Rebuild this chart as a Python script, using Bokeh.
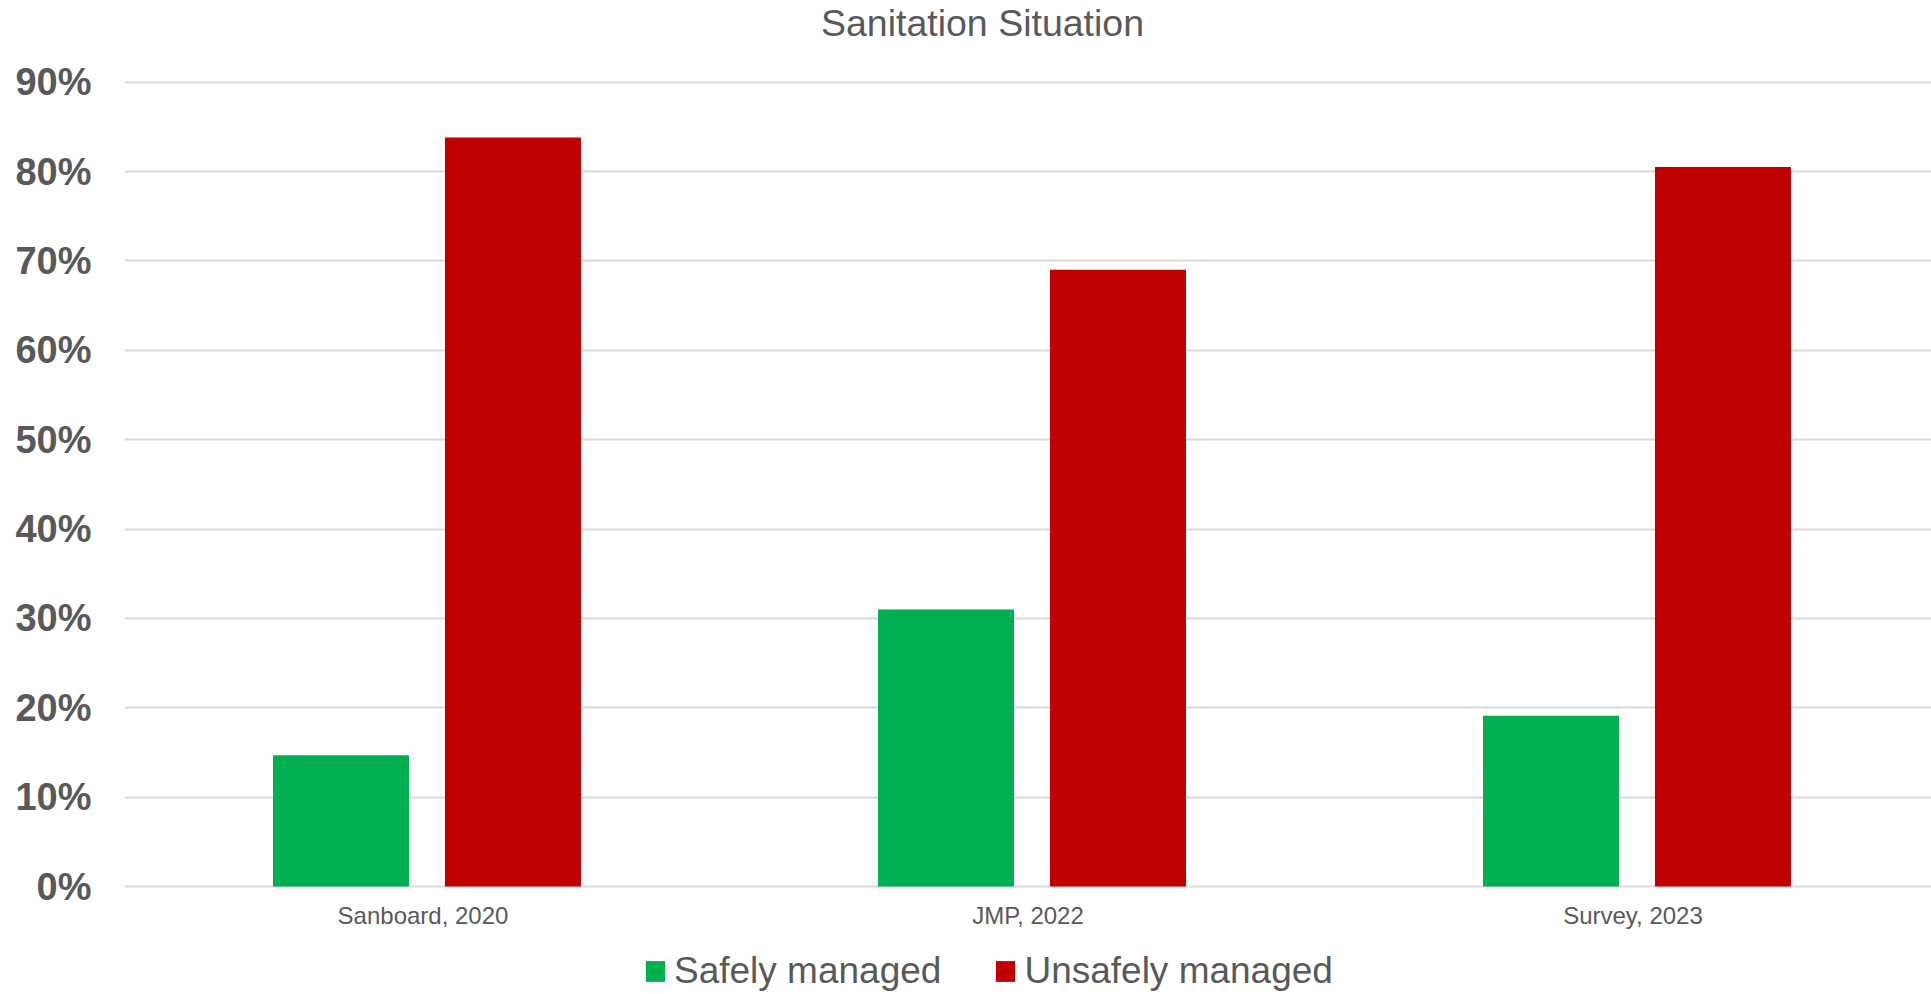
from bokeh.plotting import figure
from bokeh.models import (ColumnDataSource, Range1d, FixedTicker, NumeralTickFormatter,
                          Label, Legend, LegendItem)
from bokeh.core.properties import value
from bokeh.transform import dodge
from bokeh.embed import file_html
from bokeh.resources import INLINE

# ---- data ----
categories = ["Sanboard, 2020", "JMP, 2022", "Survey, 2023"]
safely_managed = [0.147, 0.310, 0.191]
unsafely_managed = [0.838, 0.690, 0.805]
series_names = ["Safely managed", "Unsafely managed"]
y_ticks = [0.0, 0.1, 0.2, 0.3, 0.4, 0.5, 0.6, 0.7, 0.8, 0.9]
title_text = "Sanitation Situation"

GREEN = "#00B050"
RED = "#C00000"
GREY_TXT = "#595959"
GRID = "#D9D9D9"
FONT = "Liberation Sans"

xs = [i + 0.5 for i in range(len(categories))]
src = ColumnDataSource(dict(x=xs, cat=categories, safe=safely_managed, unsafe=unsafely_managed))

W, H = 1931, 994
p = figure(width=W, height=H, output_backend="svg", toolbar_location=None,
           x_range=Range1d(0, 2.9868), y_range=Range1d(-0.12085, 0.99142),
           x_axis_location=None,
           min_border_left=124, min_border_right=0, min_border_top=0, min_border_bottom=0)
p.outline_line_color = None
p.background_fill_color = "white"
p.border_fill_color = "white"

bw = 0.2248
off = 0.1421
r_safe = p.vbar(x=dodge("x", -off), top="safe", width=bw, source=src, fill_color=GREEN, line_color=None)
r_unsafe = p.vbar(x=dodge("x", off), top="unsafe", width=bw, source=src, fill_color=RED, line_color=None)

# category labels under the baseline
p.text(x="x", y=0, text="cat", source=src, x_offset=-4, y_offset=29, text_align="center",
       text_baseline="alphabetic", text_font=value(FONT), text_font_size="24px",
       text_color=GREY_TXT)

# y axis
p.yaxis.ticker = FixedTicker(ticks=y_ticks)
p.yaxis.formatter = NumeralTickFormatter(format="0%")
p.yaxis.axis_line_color = None
p.yaxis.major_tick_line_color = None
p.yaxis.minor_tick_line_color = None
p.yaxis.major_tick_out = 0
p.yaxis.major_tick_in = 0
p.yaxis.major_label_standoff = 33
p.yaxis.major_label_text_font = FONT
p.yaxis.major_label_text_font_style = "bold"
p.yaxis.major_label_text_font_size = "38px"
p.yaxis.major_label_text_color = GREY_TXT

p.xgrid.grid_line_color = None
p.ygrid.ticker = FixedTicker(ticks=y_ticks)
p.ygrid.grid_line_color = GRID
p.ygrid.grid_line_width = 2

# title
p.add_layout(Label(x=858, y=972, x_units="screen", y_units="screen", text=title_text,
                   text_align="center", text_baseline="middle", text_font=FONT,
                   text_font_size="37.5px", text_color=GREY_TXT))

# legend
legend = Legend(items=[LegendItem(label=series_names[0], renderers=[r_safe]),
                       LegendItem(label=series_names[1], renderers=[r_unsafe])],
                orientation="horizontal", location=(519, 2),
                glyph_width=24, glyph_height=26, label_standoff=7, spacing=52,
                padding=0, margin=0, border_line_color=None, background_fill_alpha=0,
                label_text_font=FONT, label_text_font_size="37px", label_text_color=GREY_TXT)
p.add_layout(legend, "center")

open("out.html", "w").write(file_html(p, INLINE))
